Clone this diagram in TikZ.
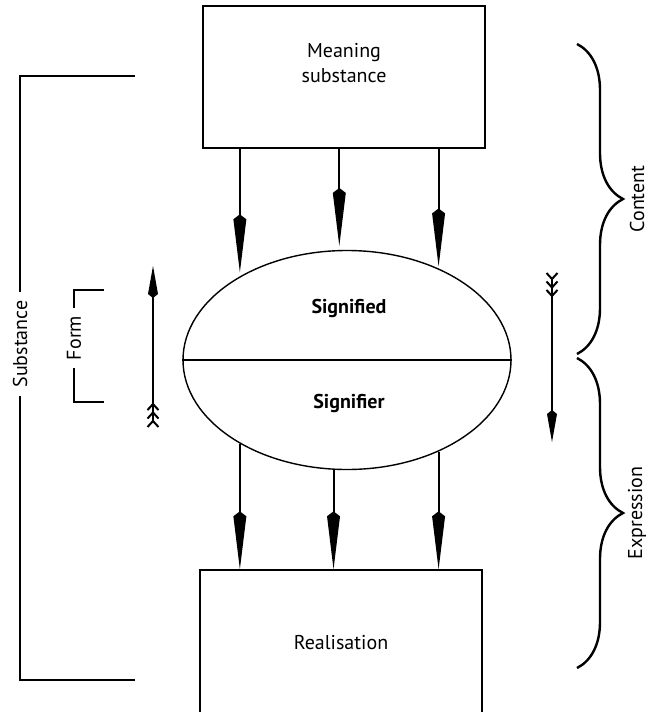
\documentclass[tikz,border=0pt]{standalone}
\usepackage{fontspec}
\setmainfont{PT Sans}
\usetikzlibrary{arrows.meta,positioning,calc,shapes.geometric,decorations.pathreplacing}

\tikzset{
  box/.style={draw, line width=0.7pt, minimum width=141pt, minimum height=71pt, inner sep=0pt},
  sign/.style={draw, ellipse, line width=0.7pt, minimum width=164pt, minimum height=109.5pt, inner sep=0pt},
  bigarr/.style={line width=1pt, -{Kite[length=29pt, width=6.5pt, inset=2.5pt]}},
  featherarr/.style={line width=1pt,
    {Straight Barb[reversed, length=3pt, width=5.5pt] Straight Barb[reversed, length=3pt, width=5.5pt] Straight Barb[reversed, length=3pt, width=5.5pt]}-{Kite[length=16pt, width=5pt, inset=2pt]}},
  brk/.style={line width=1.3pt},
  formbrk/.style={line width=0.7pt},
  curly/.style={line width=1.2pt, decorate, decoration={brace, amplitude=23pt}},
  side/.style={rotate=90, inner sep=4pt}
}

\begin{document}
\begin{tikzpicture}[x=0.5pt, y=-0.5pt, font=\fontsize{10}{12.5}\selectfont]
  \useasboundingbox (0,0) rectangle (653,712);

  % boxes and the sign
  \node[box] (meaning) at (344,77) {};
  \node[align=center] (meaningtxt) at (344,63) {Meaning\\substance};
  \node[sign] (sign) at (347,360) {};
  \draw[line width=0.7pt] (sign.west) -- (sign.east);
  \node[font=\fontsize{10}{12}\selectfont\bfseries] (sigd) at (349,308) {Signified};
  \node[font=\fontsize{10}{12}\selectfont\bfseries] (sigr) at (349,403) {Signifier};
  \node[box, minimum height=73pt] (real) at (341,643) {Realisation};

  % arrows down
  \draw[bigarr, shorten >=2pt] (sign.142 |- meaning.south) -- (sign.142);
  \draw[bigarr, shorten >=2pt] (sign.94 |- meaning.south) -- (sign.94);
  \draw[bigarr, shorten >=1pt] (sign.45 |- meaning.south) -- (sign.45);
  \draw[bigarr] (sign.218) -- (sign.218 |- real.north);
  \draw[bigarr] (sign.263) -- (sign.263 |- real.north);
  \draw[bigarr] (sign.315) -- (sign.315 |- real.north);

  % feathered arrows
  \coordinate (upfrom) at (153,428);
  \coordinate (upto) at (153,266);
  \draw[featherarr] (upfrom) -- (upto);
  \coordinate (downfrom) at (552,272);
  \coordinate (downto) at (552,442);
  \draw[featherarr] (downfrom) -- (downto);

  % substance and form
  \coordinate (subtop) at (135,76);
  \coordinate (subbot) at (135,680);
  \node[side] (subst) at (20,344) {Substance};
  \draw[brk] (subtop) -| (subst.east);
  \draw[brk] (subbot) -| (subst.west);
  \coordinate (formtop) at (104,290);
  \coordinate (formbot) at (104,402);
  \node[side] (form) at (74,338) {Form};
  \draw[formbrk] (formtop) -| (form.east);
  \draw[formbrk] (formbot) -| (form.west);

  % content and expression
  \coordinate (conttop) at (577,44);
  \coordinate (contbot) at (577,354);
  \coordinate (exptop) at (577,358);
  \coordinate (expbot) at (577,668);
  \draw[curly] (conttop) -- (contbot);
  \draw[curly] (exptop) -- (expbot);
  \node[side] (content) at (637,199) {Content};
  \node[side] (expr) at (637,513) {Expression};
\end{tikzpicture}
\end{document}
